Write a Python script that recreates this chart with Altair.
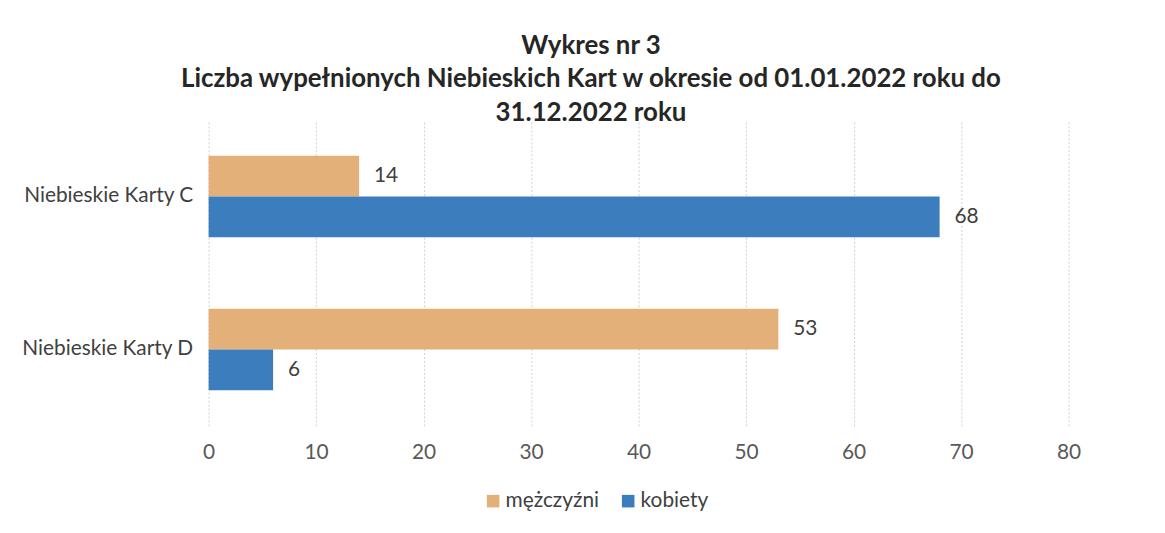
import altair as alt
import pandas as pd

categories = ["Niebieskie Karty C", "Niebieskie Karty C", "Niebieskie Karty D", "Niebieskie Karty D"]
series = ["mężczyźni", "kobiety", "mężczyźni", "kobiety"]
values = [14, 68, 53, 6]
series_order = ["mężczyźni", "kobiety"]
series_colors = ["#E3B07A", "#3C7DBE"]
x_ticks = [0, 10, 20, 30, 40, 50, 60, 70, 80]

df = pd.DataFrame({"kategoria": categories, "plec": series, "wartosc": values})

FONT = "Lato"

y_enc = alt.Y("kategoria:N", title=None,
              scale=alt.Scale(paddingInner=0.468, paddingOuter=0.234),
              axis=alt.Axis(labelFontSize=21, labelColor="#404040", labelFont=FONT,
                            ticks=False, domain=False, labelPadding=16, grid=False))
x_enc = alt.X("wartosc:Q", title=None,
              scale=alt.Scale(domain=[0, 80], nice=False),
              axis=alt.Axis(values=x_ticks, labelFontSize=21, labelColor="#595959", labelFont=FONT,
                            ticks=False, domain=False, labelPadding=16, labelFlush=False,
                            grid=True, gridColor="#d0d0d0", gridDash=[2, 2], gridWidth=1))
yoff = alt.YOffset("plec:N", sort=series_order, scale=alt.Scale(domain=series_order))

bars = alt.Chart(df).mark_bar().encode(
    y=y_enc, x=x_enc, yOffset=yoff,
    color=alt.Color("plec:N", sort=series_order,
                    scale=alt.Scale(domain=series_order, range=series_colors),
                    legend=alt.Legend(title=None, orient="none", direction="horizontal",
                                      legendX=276, legendY=373, symbolType="square",
                                      symbolSize=160, labelFontSize=21, labelFont=FONT,
                                      labelColor="#404040", columnPadding=18, symbolStrokeWidth=0,
                                      labelOffset=2)),
)

labels = alt.Chart(df).mark_text(align="left", baseline="middle", dx=15, fontSize=21,
                                 font=FONT, color="#404040").encode(
    y=alt.Y("kategoria:N"), x=alt.X("wartosc:Q"), yOffset=yoff,
    text=alt.Text("wartosc:Q"),
)

chart = alt.layer(bars, labels).properties(
    width=866, height=308,
    autosize=alt.AutoSizeParams(type="none"),
    padding={"left": 202, "top": 111, "right": 89, "bottom": 106},
    title=alt.TitleParams(
        text=["Wykres nr 3",
              "Liczba wypełnionych Niebieskich Kart w okresie od 01.01.2022 roku  do",
              "31.12.2022 roku"],
        font=FONT, fontSize=26, fontWeight="bold", color="#262626",
        anchor="middle", dx=-48, lineHeight=34, offset=-6,
    ),
).configure(background="white", view=alt.ViewConfig(stroke="transparent", strokeWidth=0))

chart.save("out.html", embed_options={"renderer": "svg", "actions": False})
